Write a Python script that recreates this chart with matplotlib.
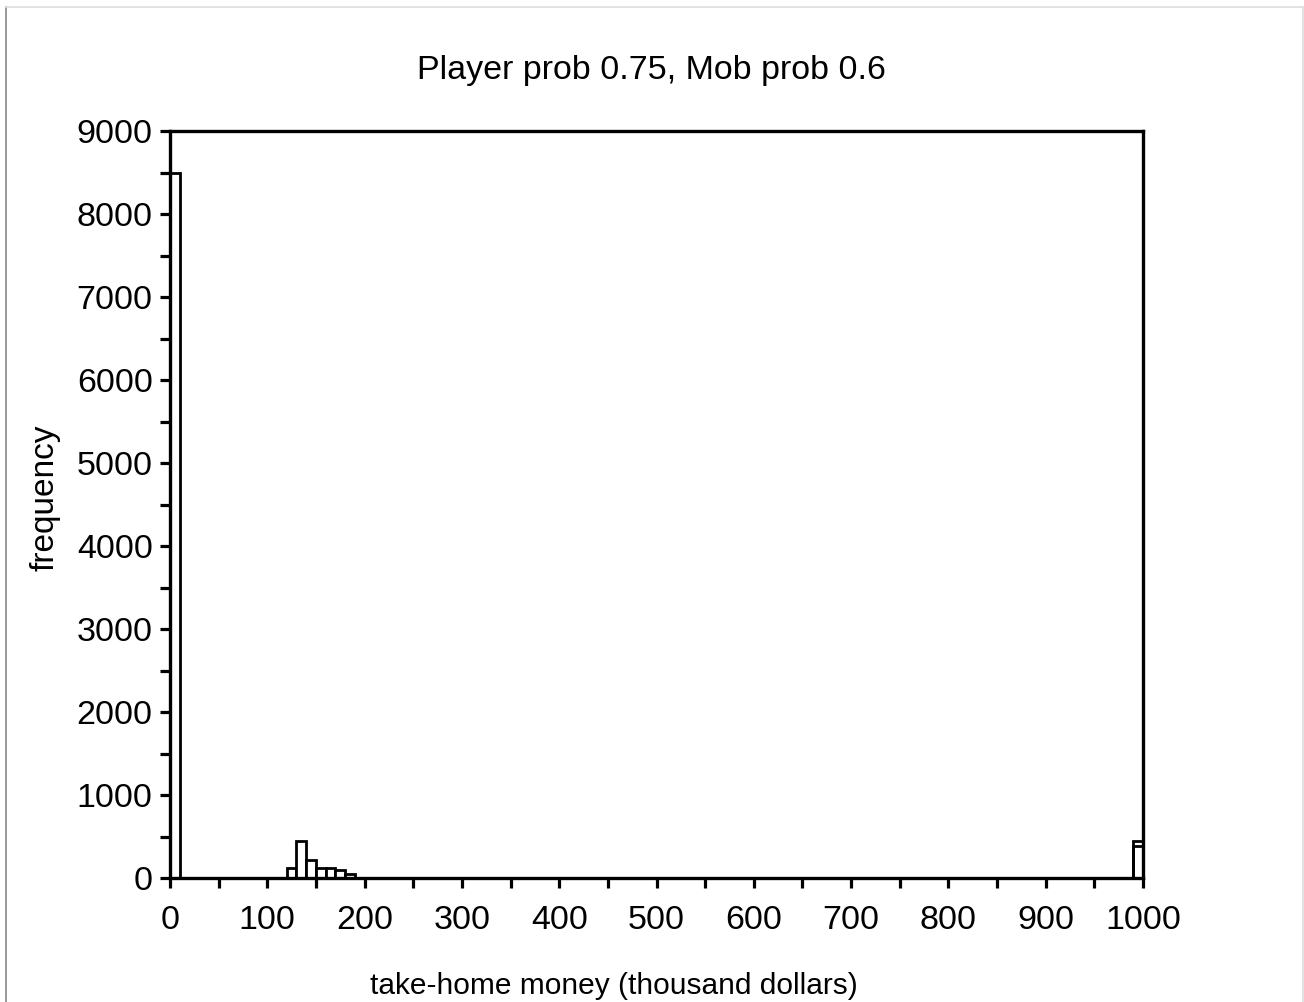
import matplotlib
matplotlib.use("Agg")
import matplotlib.pyplot as plt
from matplotlib.lines import Line2D

# Data
bin_left = [0, 120, 130, 140, 150, 160, 170, 180, 990]
freq = [8500, 120, 440, 215, 125, 125, 95, 45, 445]
overlap_left = [990]
overlap_freq = [390]
bin_width = 10
x_ticks = [0, 100, 200, 300, 400, 500, 600, 700, 800, 900, 1000]
y_ticks = [0, 1000, 2000, 3000, 4000, 5000, 6000, 7000, 8000, 9000]

title = "Player prob 0.75, Mob prob 0.6"
xlabel = "take-home money (thousand dollars)"
ylabel = "frequency"

plt.rcParams['font.family'] = ['Liberation Sans', 'DejaVu Sans']

W, H = 1304, 1002
fig = plt.figure(figsize=(W / 100, H / 100), dpi=100)
ax = fig.add_axes([170 / W, 1 - 878 / H, (1143 - 170) / W, (878 - 131) / H])

ax.bar(bin_left, freq, width=bin_width, align='edge', facecolor='white',
       edgecolor='black', linewidth=2.0, zorder=2)
ax.bar(overlap_left, overlap_freq, width=bin_width, align='edge', facecolor='none',
       edgecolor='black', linewidth=2.0, zorder=3)

ax.set_xlim(0, 1000)
ax.set_ylim(0, 9000)
ax.set_xticks(x_ticks)
ax.set_xticklabels([str(v) for v in x_ticks])
ax.set_yticks(y_ticks)
ax.set_yticklabels([str(v) for v in y_ticks])
ax.set_xticks([v + 50 for v in x_ticks[:-1]], minor=True)
ax.set_yticks([v + 500 for v in y_ticks[:-1]], minor=True)

ax.tick_params(axis='both', which='both', direction='out', width=2.3, color='black',
               top=False, right=False)
ax.tick_params(axis='both', which='major', length=7.5, labelsize=24.5)
ax.tick_params(axis='both', which='minor', length=7)
ax.tick_params(axis='x', which='major', pad=12)
ax.tick_params(axis='y', which='major', pad=5)

for s in ax.spines.values():
    s.set_linewidth(2.4)
    s.set_color('black')
    s.set_zorder(4)

fig.text(651 / W, 1 - 70 / H, title, ha='center', va='center', fontsize=24.5)
fig.text(614 / W, 1 - 986 / H, xlabel, ha='center', va='center', fontsize=21.5)
fig.text(45 / W, 1 - 498 / H, ylabel, ha='center', va='center', rotation=90, fontsize=24)

# figure frame
fig.add_artist(Line2D([6 / W, 6 / W], [0, 1 - 7 / H], transform=fig.transFigure,
                      color='#888888', linewidth=1.2))
fig.add_artist(Line2D([6 / W, 1303 / W], [1 - 7 / H, 1 - 7 / H], transform=fig.transFigure,
                      color='#dddddd', linewidth=1.2))
fig.add_artist(Line2D([1303 / W, 1303 / W], [0, 1 - 7 / H], transform=fig.transFigure,
                      color='#dddddd', linewidth=1.2))

fig.savefig("out.png", dpi=100, facecolor='white')
